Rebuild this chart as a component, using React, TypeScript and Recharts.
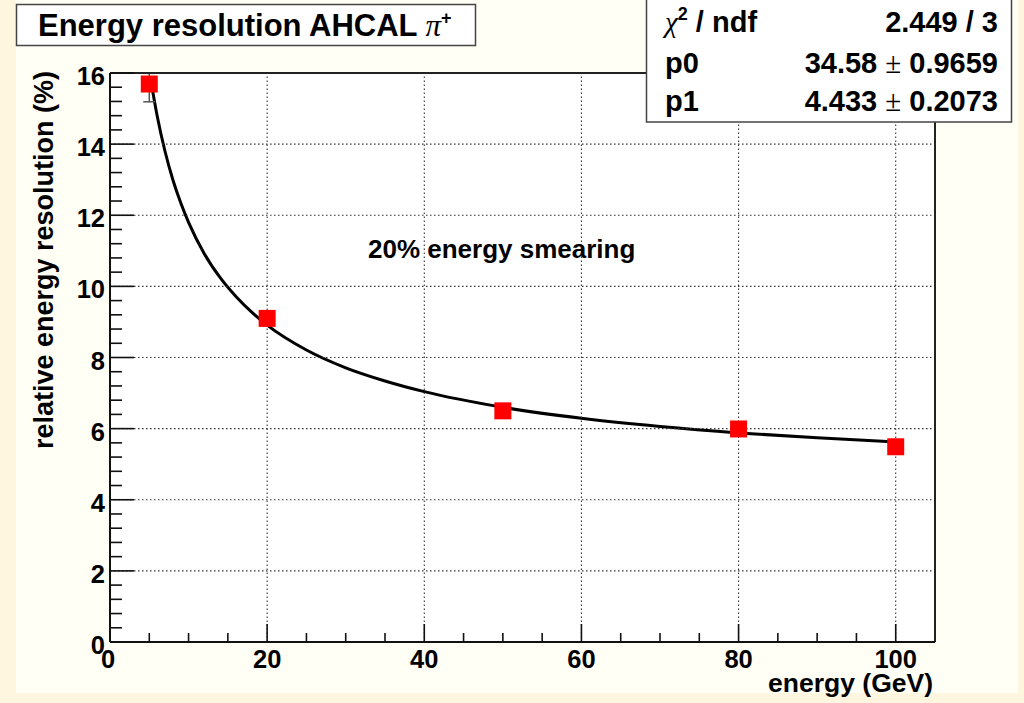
import React from 'react';
import {
  ComposedChart,
  XAxis,
  YAxis,
  Line,
  Scatter,
  ErrorBar,
  ReferenceLine,
  CartesianGrid,
} from 'recharts';

// measured points
const energies = [5, 20, 50, 80, 100];
const resolutions = [15.69, 9.1, 6.5, 5.99, 5.49];
const errorsLowHigh = [
  [0.5, 0.3],
  [0.2, 0.2],
  [0.15, 0.15],
  [0.15, 0.15],
  [0.15, 0.15],
];

// fitted curve
const fitEnergies = [5.4, 6, 7, 8, 9, 10, 12, 14, 16, 18, 20, 25, 30, 35, 40, 50, 60, 70, 80, 90, 99.5];
const fitValues = [15.53, 14.8, 13.8, 13.0, 12.35, 11.8, 10.92, 10.25, 9.72, 9.28, 8.91, 8.21, 7.71, 7.34, 7.04, 6.6, 6.29, 6.06, 5.88, 5.74, 5.63];

// ticks
const xTicks = [0, 5, 10, 15, 20, 25, 30, 35, 40, 45, 50, 55, 60, 65, 70, 75, 80, 85, 90, 95, 100];
const xMajor = [0, 20, 40, 60, 80, 100];
const yTicks = [
  0, 0.4, 0.8, 1.2, 1.6, 2, 2.4, 2.8, 3.2, 3.6, 4, 4.4, 4.8, 5.2, 5.6, 6, 6.4, 6.8, 7.2, 7.6, 8,
  8.4, 8.8, 9.2, 9.6, 10, 10.4, 10.8, 11.2, 11.6, 12, 12.4, 12.8, 13.2, 13.6, 14, 14.4, 14.8,
  15.2, 15.6, 16,
];
const yMajor = [0, 2, 4, 6, 8, 10, 12, 14, 16];
const xGrid = [20, 40, 60, 80, 100];
const yGrid = [2, 4, 6, 8, 10, 12, 14];

const pointData = energies.map((x, i) => ({ x, y: resolutions[i], err: errorsLowHigh[i] }));
const fitData = fitEnergies.map((x, i) => ({ x, y: fitValues[i] }));

const FONT = '"Liberation Sans", Arial, Helvetica, sans-serif';
const SYM = '"Liberation Serif", "DejaVu Serif", serif';
const TICK_FS = 25.5;

const isIn = (arr: number[], v: number) => arr.some((m) => Math.abs(m - v) < 1e-6);

const YTick = (props: any) => {
  const { x, y, payload } = props;
  const v = payload.value;
  const major = isIn(yMajor, v);
  return (
    <g>
      <line x1={x} y1={y} x2={x + (major ? 24 : 12)} y2={y} stroke="#111" strokeWidth={1.6} />
      {major && (
        <text x={x - 5} y={y + 12} textAnchor="end" fontFamily={FONT} fontWeight="bold" fontSize={TICK_FS} fill="#000">
          {v}
        </text>
      )}
    </g>
  );
};

const XTick = (props: any) => {
  const { x, y, payload } = props;
  const v = payload.value;
  const major = isIn(xMajor, v);
  return (
    <g>
      <line x1={x} y1={y} x2={x} y2={y - (major ? 18 : 9)} stroke="#111" strokeWidth={1.6} />
      {major && (
        <text x={x - (v === 0 ? 2 : 0)} y={y + 26} textAnchor="middle" fontFamily={FONT} fontWeight="bold" fontSize={TICK_FS} fill="#000">
          {v}
        </text>
      )}
    </g>
  );
};

const Square = (props: any) => {
  const { cx, cy } = props;
  return <rect x={cx - 8.5} y={cy - 8.5} width={17} height={17} fill="#ff0000" />;
};

export default function App() {
  return (
    <div
      style={{
        position: 'absolute',
        left: 0,
        top: 0,
        width: 1024,
        height: 703,
        background: '#FEF6DE',
        overflow: 'hidden',
      }}
    >
      <div style={{ position: 'absolute', left: 16, top: 0, width: 1002, height: 693, background: '#FFFFF6' }} />
      <div style={{ position: 'absolute', left: 0, top: 0 }}>
        <ComposedChart width={1024} height={703} margin={{ top: 73, right: 89, bottom: 21, left: 50 }}>
          <CartesianGrid fill="#ffffff" horizontal={false} vertical={false} />
          <XAxis
            dataKey="x"
            type="number"
            domain={[0, 105]}
            allowDataOverflow
            ticks={xTicks}
            interval={0}
            height={40}
            tickSize={0}
            tickMargin={0}
            tick={<XTick />}
            tickLine={false}
            axisLine={{ stroke: '#111', strokeWidth: 2 }}
          />
          <YAxis
            dataKey="y"
            type="number"
            domain={[0, 16]}
            allowDataOverflow
            ticks={yTicks}
            interval={0}
            width={60}
            tickSize={0}
            tickMargin={0}
            tick={<YTick />}
            tickLine={false}
            axisLine={{ stroke: '#111', strokeWidth: 2 }}
          />
          <Line
            data={fitData}
            dataKey="y"
            type="monotone"
            stroke="#000"
            strokeWidth={3}
            dot={false}
            activeDot={false}
            isAnimationActive={false}
          />
          <Scatter data={pointData} dataKey="y" shape={<Square />} isAnimationActive={false}>
            <ErrorBar dataKey="err" direction="y" width={6} stroke="#555" strokeWidth={1.5} />
          </Scatter>
          {yGrid.map((v) => (
            <ReferenceLine key={'yg' + v} y={v} stroke="#333" strokeWidth={1.1} strokeDasharray="1.5 2.5" />
          ))}
          {xGrid.map((v) => (
            <ReferenceLine key={'xg' + v} x={v} stroke="#333" strokeWidth={1.1} strokeDasharray="1.5 2.5" />
          ))}
          <ReferenceLine y={16} stroke="#222" strokeWidth={2} />
          <ReferenceLine x={105} stroke="#222" strokeWidth={2} />
        </ComposedChart>
      </div>
      <svg
        width={1024}
        height={703}
        style={{ position: 'absolute', left: 0, top: 0, pointerEvents: 'none' }}
      >
        {/* title box */}
        <rect x={16.5} y={4.5} width={459} height={41} fill="#ffffff" stroke="#444" strokeWidth={1.5} />
        <text x={38} y={36} fontFamily={FONT} fontWeight="bold" fontSize={31} fill="#000">
          Energy resolution AHCAL{' '}
          <tspan fontFamily={SYM} fontStyle="italic" fontWeight="normal">π</tspan>
          <tspan fontSize={18} dy={-12}>+</tspan>
        </text>

        {/* stats box */}
        <rect x={646.5} y={-1} width={365} height={123} fill="#ffffff" stroke="#444" strokeWidth={1.5} />
        <text x={665} y={32} fontFamily={FONT} fontWeight="bold" fontSize={29} fill="#000">
          <tspan fontFamily={SYM} fontStyle="italic" fontWeight="normal">χ</tspan>
          <tspan fontSize={18} dy={-12}>2</tspan>
          <tspan dy={12}> / ndf</tspan>
        </text>
        <text x={998} y={32} textAnchor="end" fontFamily={FONT} fontWeight="bold" fontSize={29} fill="#000">
          2.449 / 3
        </text>
        <text x={665} y={73} fontFamily={FONT} fontWeight="bold" fontSize={29} fill="#000">
          p0
        </text>
        <text x={998} y={73} textAnchor="end" fontFamily={FONT} fontWeight="bold" fontSize={29} fill="#000">
          34.58 <tspan fontFamily={SYM} fontWeight="normal">±</tspan> 0.9659
        </text>
        <text x={665} y={111} fontFamily={FONT} fontWeight="bold" fontSize={29} fill="#000">
          p1
        </text>
        <text x={998} y={111} textAnchor="end" fontFamily={FONT} fontWeight="bold" fontSize={29} fill="#000">
          4.433 <tspan fontFamily={SYM} fontWeight="normal">±</tspan> 0.2073
        </text>

        {/* annotation */}
        <text x={368} y={258} fontFamily={FONT} fontWeight="bold" fontSize={26} fill="#000">
          20% energy smearing
        </text>

        {/* axis titles */}
        <text x={933} y={692} textAnchor="end" fontFamily={FONT} fontWeight="bold" fontSize={26.5} fill="#000">
          energy (GeV)
        </text>
        <text
          x={0}
          y={0}
          transform="translate(53,260) rotate(-90)"
          textAnchor="middle"
          fontFamily={FONT}
          fontWeight="bold"
          fontSize={27}
          fill="#000"
        >
          relative energy resolution (%)
        </text>
      </svg>
    </div>
  );
}
